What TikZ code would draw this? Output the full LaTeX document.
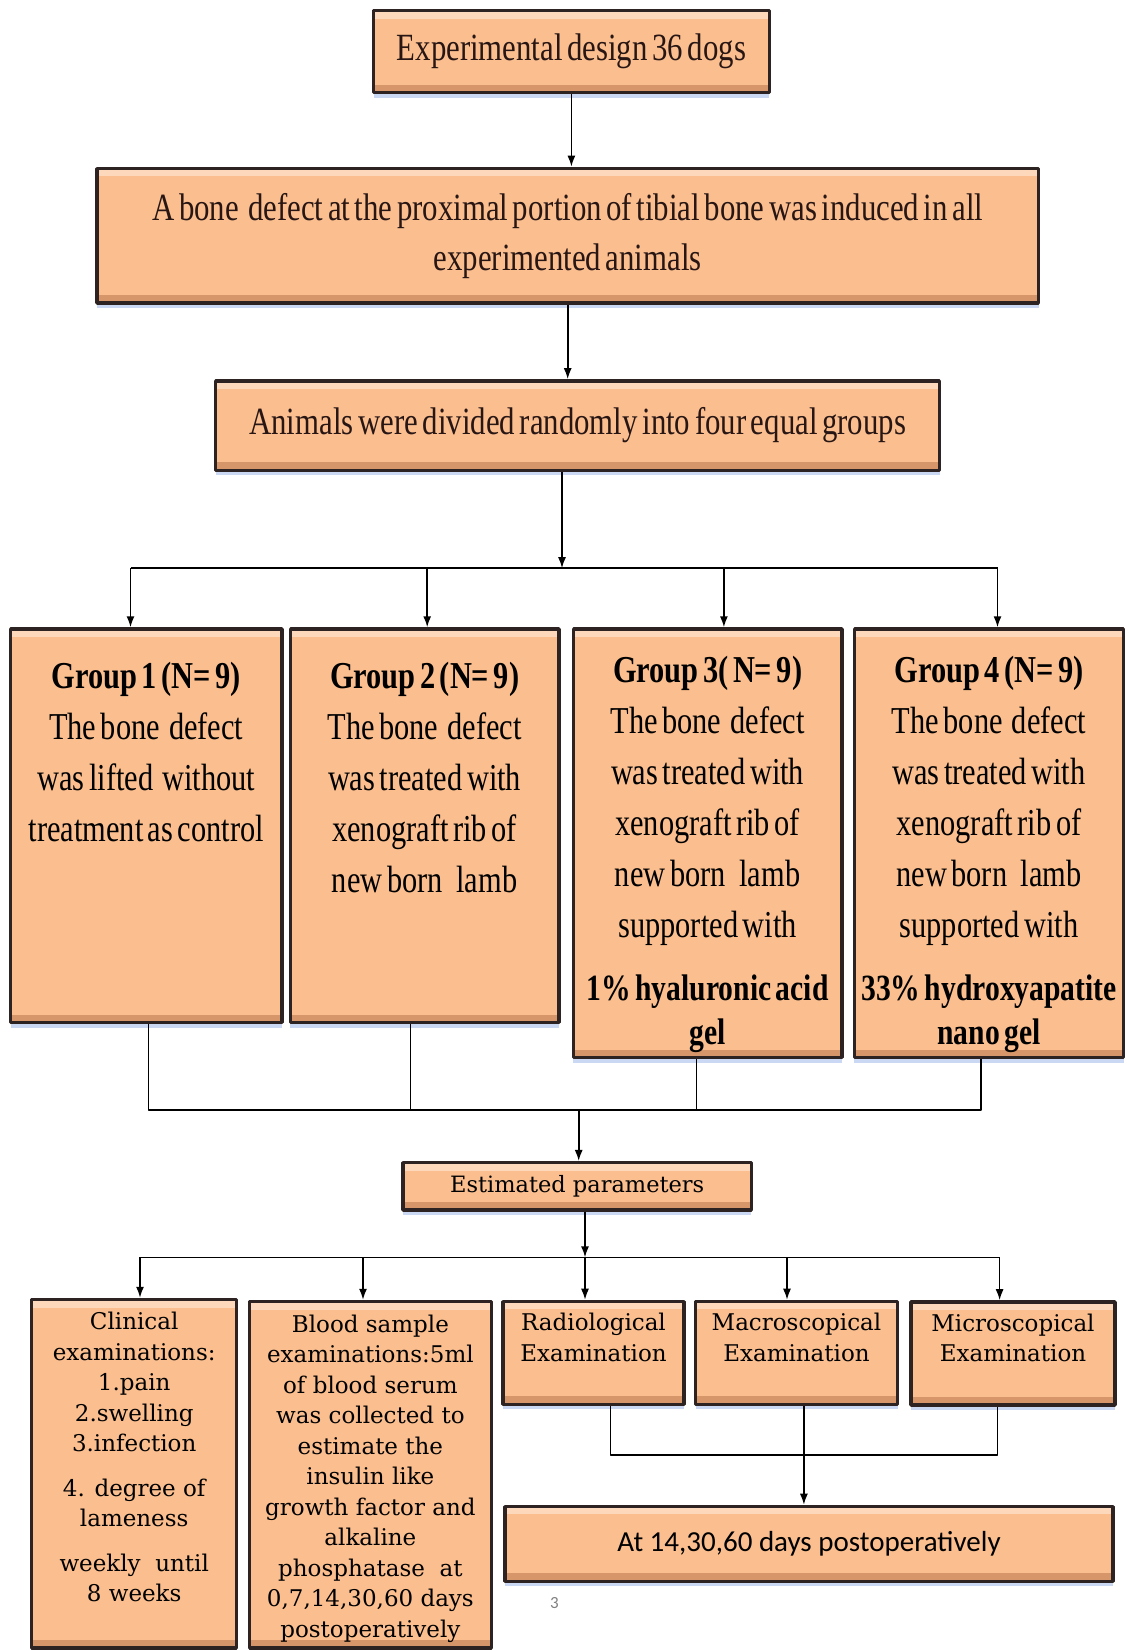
\documentclass[tikz,border=0pt]{standalone}
\usepackage{fontspec}
\setmainfont{Liberation Serif}
\newfontfamily\condfont[FakeStretch=0.8, WordSpace=0.6]{Liberation Serif}
\newfontfamily\examfont{DejaVu Serif}
\newfontfamily\calfont{Carlito}
\usetikzlibrary{arrows,arrows.meta,shapes,shadows}

\definecolor{boxfill}{RGB}{250,190,143}
\definecolor{boxhi}{RGB}{253,216,186}
\definecolor{boxlo}{RGB}{214,150,106}
\definecolor{boxline}{RGB}{45,35,35}
\definecolor{glow}{RGB}{196,212,242}
\definecolor{inkcol}{RGB}{40,22,20}

\tikzset{
  box/.style={draw=boxline, fill=boxfill, line width=3.5bp, inner sep=0pt, text=inkcol,
    drop shadow={shadow xshift=0bp, shadow yshift=-5bp, fill=glow, opacity=.9},
    path picture={
      \fill[boxhi] (path picture bounding box.north west) rectangle ([yshift=-8bp]path picture bounding box.north east);
      \fill[boxlo] ([yshift=8bp]path picture bounding box.south west) rectangle (path picture bounding box.south east);
    }},
  headbox/.style={box, align=center, font=\condfont\fontsize{38.5bp}{50bp}\selectfont},
  grpbox/.style={box, align=flush center, text=black, font=\condfont\fontsize{38bp}{51bp}\selectfont},
  exambox/.style={box, align=flush center, text=black, font=\examfont\fontsize{23bp}{30.5bp}\selectfont},
}

\begin{document}
\begin{tikzpicture}[>={Latex[length=11bp,width=8bp]},line join=bevel,]
  \pgfsetlinewidth{1.6bp}
  \useasboundingbox (0bp,0bp) rectangle (1129bp,1650bp);
%%
  % Node: design
  \node[headbox, minimum width=395.7bp, minimum height=82bp] (design) at (571.4bp,1598.4bp) {Experimental design 36 dogs};
  % Node: defect
  \node[headbox, minimum width=941.7bp, minimum height=134.6bp] (defect) at (567.7bp,1414.3bp)
    {A bone\ \ defect at the proximal portion of tibial bone was induced in all\\experimented animals};
  % Node: divide
  \node[headbox, minimum width=724bp, minimum height=89.4bp] (divide) at (577.7bp,1224.4bp)
    {Animals were divided randomly into four equal groups};
  % Node: g1
  \node[grpbox, text width=271.5bp, text height=59bp, text depth=334.7bp] (g1) at (146.3bp,824.1bp)
    {\textbf{Group 1 (N= 9)}\\The bone\ \ defect\\was lifted\ \ without\\treatment as control};
  % Node: g2
  \node[grpbox, text width=268.3bp, text height=59bp, text depth=334.7bp] (g2) at (424.6bp,824.1bp)
    {\textbf{Group 2 (N= 9)}\\The bone\ \ defect\\was treated with\\xenograft rib of\\new born\ \ \ lamb};
  % Node: g3
  \node[grpbox, text width=268.4bp, text height=53bp, text depth=375.5bp] (g3) at (707.6bp,806.7bp)
    {\textbf{Group 3( N= 9)}\\The bone\ \ defect\\was treated with\\xenograft rib of\\new born\ \ \ lamb\\supported with\\[19bp]
     {\fontsize{37bp}{44bp}\selectfont\textbf{1\% hyaluronic acid}\\[-7bp]\textbf{gel}}};
  % Node: g4
  \node[grpbox, text width=269.3bp, text height=53bp, text depth=375.5bp] (g4) at (989bp,806.7bp)
    {\textbf{Group 4 (N= 9)}\\The bone\ \ defect\\was treated with\\xenograft rib of\\new born\ \ \ lamb\\supported with\\[19bp]
     {\fontsize{37bp}{44bp}\selectfont\textbf{33\% hydroxyapatite}\\[-7bp]\textbf{nano gel}}};
  % Node: params
  \node[exambox, font=\examfont\fontsize{22.5bp}{26bp}\selectfont, minimum width=348.3bp, minimum height=47.3bp] (params) at (577.2bp,463.6bp)
    {Estimated parameters};
  % Node: clin
  \node[exambox, text width=205bp, text height=30bp, text depth=318.5bp] (clin) at (134.2bp,176.2bp)
    {Clinical\\examinations:\\1.pain\\2.swelling\\3.infection\\[14bp]4. degree of\\lameness\\[14bp]weekly\ \ until\\8 weeks};
  % Node: blood
  \node[exambox, text width=242bp, text height=30.5bp, text depth=316bp] (blood) at (370.4bp,175.2bp)
    {Blood sample\\examinations:5ml\\of blood serum\\was collected to\\estimate the\\insulin like\\growth factor and\\alkaline\\phosphatase\ \ at\\0,7,14,30,60 days\\postoperatively};
  % Node: radio
  \node[exambox, text width=181bp, text height=29.5bp, text depth=73.5bp] (radio) at (593.5bp,297bp)
    {Radiological\\Examination};
  % Node: macro
  \node[exambox, text width=202bp, text height=29.5bp, text depth=73.5bp] (macro) at (796.5bp,297bp)
    {Macroscopical\\Examination};
  % Node: micro
  \node[exambox, text width=204bp, text height=29.5bp, text depth=73.5bp] (micro) at (1013bp,296.5bp)
    {Microscopical\\Examination};
  % Node: days
  \node[box, text=black, font=\calfont\fontsize{29bp}{32bp}\selectfont, minimum width=608bp, minimum height=75bp] (days) at (809bp,106bp)
    {At 14,30,60 days postoperatively};
  % Node: pgnum
  \node[text=gray, font=\calfont\fontsize{17bp}{17bp}\selectfont] (pgnum) at (554.5bp,46.5bp) {3};
%%
  % branch points
  \coordinate (split) at (562bp,1081.8bp);
  \coordinate (s1) at (130.5bp,1081.8bp);
  \coordinate (s2) at (427.2bp,1081.8bp);
  \coordinate (s3) at (723.9bp,1081.8bp);
  \coordinate (s4) at (997.5bp,1081.8bp);
  \coordinate (j1) at (148.4bp,540bp);
  \coordinate (j2) at (410.4bp,540bp);
  \coordinate (j3) at (696.6bp,540bp);
  \coordinate (j4) at (980.7bp,540bp);
  \coordinate (jm) at (578.7bp,540bp);
  \coordinate (q1) at (140bp,392.6bp);
  \coordinate (q2) at (363bp,392.6bp);
  \coordinate (q3) at (585bp,392.6bp);
  \coordinate (q4) at (787bp,392.6bp);
  \coordinate (q5) at (999.6bp,392.6bp);
  \coordinate (k1) at (610.3bp,195bp);
  \coordinate (k2) at (803.9bp,195bp);
  \coordinate (k3) at (997.5bp,195bp);
\pgfsetcolor{black}
  % Edge: design -> defect
  \draw [->] (design.south) -- (design.south |- defect.north);
  % Edge: defect -> divide
  \draw [->] (defect.south) -- (defect.south |- divide.north);
  % Edge: divide -> groups
  \draw [->] (divide.south -| split) -- (split);
  \draw (s1) -- (s4);
  \draw [->] (s1) -- (s1 |- g1.north);
  \draw [->] (s2) -- (s2 |- g2.north);
  \draw [->] (s3) -- (s3 |- g3.north);
  \draw [->] (s4) -- (s4 |- g4.north);
  % Edge: groups -> params
  \draw (j1 |- g1.south) -- (j1) -- (j4) -- (j4 |- g4.south);
  \draw (j2 |- g2.south) -- (j2);
  \draw (j3 |- g3.south) -- (j3);
  \draw [->] (jm) -- (jm |- params.north);
  % Edge: params -> examinations
  \draw [->] (params.south -| q3) -- (q3);
  \draw (q1) -- (q5);
  \draw [->] (q1) -- (q1 |- clin.north);
  \draw [->] (q2) -- (q2 |- blood.north);
  \draw [->] (q3) -- (q3 |- radio.north);
  \draw [->] (q4) -- (q4 |- macro.north);
  \draw [->] (q5) -- (q5 |- micro.north);
  % Edge: radio, macro, micro -> days
  \draw (k1 |- radio.south) -- (k1) -- (k3) -- (k3 |- micro.south);
  \draw [->] (k2 |- macro.south) -- (k2 |- days.north);
%
\end{tikzpicture}
\end{document}
